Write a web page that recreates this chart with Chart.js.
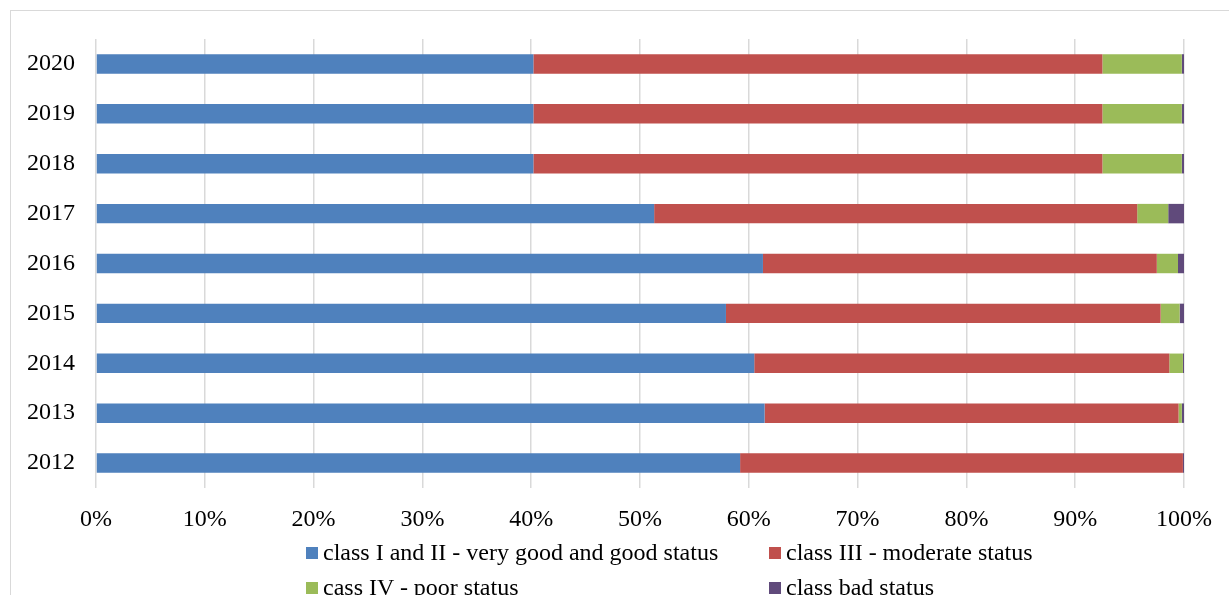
<!DOCTYPE html>
<html>
<head>
<meta charset="utf-8">
<script src="https://cdn.jsdelivr.net/npm/chart.js@4.4.0/dist/chart.umd.min.js"></script>
<style>
    body { margin: 0; background: #fff; overflow: hidden; }
    #wrap { position: relative; width: 1229px; height: 595px; }
    #frame { position: absolute; left: 10px; top: 10px; width: 1240px; height: 600px; border-left: 1.5px solid #d9d9d9; border-top: 1.5px solid #d9d9d9; }
    #myChart { position: absolute; left: 0; top: 0; }
    .leg { position: absolute; font-family: 'Liberation Serif', 'Times New Roman', serif; font-size: 24px; color: #000; white-space: nowrap; line-height: 24px; }
    .leg span { display: inline-block; width: 12px; height: 12px; margin-right: 5px; vertical-align: 1px; }
</style>
</head>
<body>
<div id="wrap">
    <div id="frame"></div>
    <canvas id="myChart" width="1229" height="595"></canvas>
    <div id="legend"></div>
</div>
<script>
var years = ['2020', '2019', '2018', '2017', '2016', '2015', '2014', '2013', '2012'];
var seriesNames = ['class I and II - very good and good status', 'class III - moderate status', 'cass IV - poor status', 'class bad status'];
var colors = ['#4F81BD', '#C0504D', '#9BBB59', '#604A7B'];
var classOneTwo = [40.2, 40.2, 40.2, 51.3, 61.3, 57.9, 60.5, 61.45, 59.2];
var classThree = [52.3, 52.3, 52.3, 44.4, 36.2, 39.95, 38.15, 38.05, 40.7];
var classFour = [7.3, 7.3, 7.3, 2.85, 1.95, 1.75, 1.25, 0.3, 0];
var classBad = [0.2, 0.2, 0.2, 1.45, 0.55, 0.4, 0.1, 0.2, 0.1];
var xTicks = ['0%', '10%', '20%', '30%', '40%', '50%', '60%', '70%', '80%', '90%', '100%'];

var serif = "'Liberation Serif', 'Times New Roman', serif";
var allValues = [classOneTwo, classThree, classFour, classBad];

var ctx = document.getElementById('myChart').getContext('2d');
var myChart = new Chart(ctx, {
    type: 'bar',
    data: {
        labels: years,
        datasets: allValues.map(function (vals, i) {
            return {
                label: seriesNames[i],
                data: vals,
                backgroundColor: colors[i],
                borderWidth: 0,
                barPercentage: 0.39,
                categoryPercentage: 1
            };
        })
    },
    options: {
        indexAxis: 'y',
        responsive: false,
        animation: false,
        layout: {
            padding: { top: 39, right: 43, left: 0, bottom: 67 }
        },
        plugins: {
            legend: { display: false },
            tooltip: { enabled: false }
        },
        scales: {
            x: {
                stacked: true,
                min: 0,
                max: 100,
                grid: { color: '#d9d9d9', lineWidth: 1.5, drawTicks: false },
                border: { display: false },
                afterFit: function (s) { s.height = 40; },
                ticks: {
                    stepSize: 10,
                    padding: 17,
                    color: '#000',
                    font: { family: serif, size: 24 },
                    callback: function (v, i) { return xTicks[i]; }
                }
            },
            y: {
                stacked: true,
                grid: { display: false },
                border: { display: false },
                afterFit: function (s) { s.width = 96; },
                ticks: {
                    padding: 13,
                    color: '#000',
                    font: { family: serif, size: 24 }
                }
            }
        }
    }
});

// legend laid out in two columns like the original
var legendPos = [[306, 540], [769, 540], [306, 575], [769, 575]];
var legendBox = document.getElementById('legend');
seriesNames.forEach(function (name, i) {
    var d = document.createElement('div');
    d.className = 'leg';
    d.style.left = legendPos[i][0] + 'px';
    d.style.top = legendPos[i][1] + 'px';
    d.innerHTML = '<span style="background:' + colors[i] + '"></span>' + name;
    legendBox.appendChild(d);
});
</script>
</body>
</html>
